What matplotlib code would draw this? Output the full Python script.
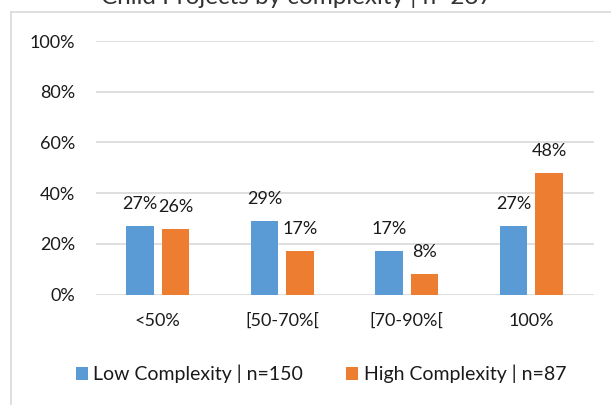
import matplotlib.pyplot as plt
import numpy as np
from matplotlib.lines import Line2D

categories = ['<50%', '[50-70%[', '[70-90%[', '100%']
low_vals = [27, 29, 17, 27]
high_vals = [26, 17, 8, 48]
low_label = 'Low Complexity | n=150'
high_label = 'High Complexity | n=87'
title = 'Child Projects by complexity | n=237'
yticks = [0, 20, 40, 60, 80, 100]

blue = '#5B9BD5'
orange = '#ED7D31'

plt.rcParams['font.family'] = ['Lato', 'DejaVu Sans']

W, H = 611, 405
fig = plt.figure(figsize=(W / 100, H / 100), dpi=100)
# plot area in pixel coords: x 95.5..595.5, y(0%)=294.5, y(100%)=41
ax = fig.add_axes([95.5 / W, 1 - 294.5 / H, 498 / W, (294.5 - 41) / H])

x = np.arange(len(categories))
bw = 0.22
off = 0.142
b1 = ax.bar(x - off, low_vals, bw, color=blue, label=low_label, zorder=3)
b2 = ax.bar(x + off, high_vals, bw, color=orange, label=high_label, zorder=3)

for bars, vals in [(b1, low_vals), (b2, high_vals)]:
    for r, v in zip(bars, vals):
        ax.annotate(f'{v}%', (r.get_x() + r.get_width() / 2, v),
                    xytext=(0, 22), textcoords='offset pixels',
                    ha='center', va='center', fontsize=13, color='#1a1a1a')

ax.set_xlim(-0.5, len(categories) - 0.5)
ax.set_ylim(0, 100)
ax.set_yticks(yticks)
ax.set_yticklabels([f'{t}%' for t in yticks])
ax.set_xticks(x)
ax.set_xticklabels(categories)
ax.tick_params(axis='both', length=0, labelsize=13, colors='#1a1a1a')
ax.tick_params(axis='y', pad=14.5)
ax.tick_params(axis='x', pad=13)
ax.grid(axis='y', color='#d9d9d9', linewidth=1.2, zorder=0)
for s in ax.spines.values():
    s.set_visible(False)

# chart frame (partly outside the image)
fig.add_artist(Line2D([10.5 / W, 10.5 / W], [0, 1 - 11.5 / H], color='#d9d9d9', linewidth=1.2))
fig.add_artist(Line2D([10.5 / W, 1], [1 - 11.5 / H, 1 - 11.5 / H], color='#d9d9d9', linewidth=1.2))

fig.text(297 / W, 1 - 4 / H, title, ha='center', va='baseline', fontsize=17.5, color='#333333')

fig.legend(loc='center', bbox_to_anchor=(321 / W, 1 - 374 / H), ncol=2, frameon=False,
           fontsize=14, handlelength=0.6, handleheight=0.6, handletextpad=0.3,
           columnspacing=2.2, labelcolor='#1a1a1a')

fig.savefig('out.png', dpi=100)
